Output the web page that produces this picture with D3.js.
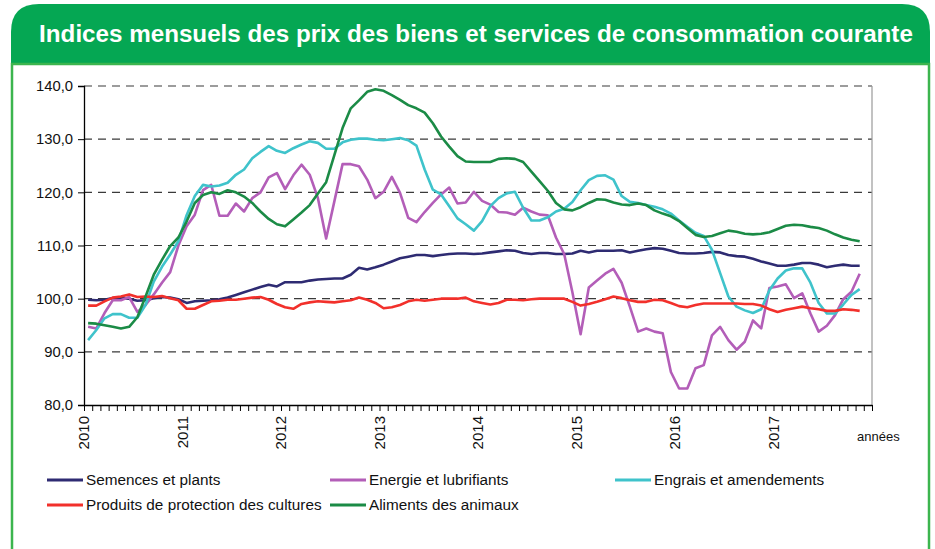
<!DOCTYPE html>
<html>
<head>
<meta charset="utf-8">
<script src="https://cdn.jsdelivr.net/npm/d3@7"></script>
<style>
  body { margin: 0; background: #fff; }
  text { font-family: "Liberation Sans", Arial, sans-serif; }
</style>
</head>
<body>
<div class="canvas"></div>
<script>
// tick labels
const years = ["2010", "2011", "2012", "2013", "2014", "2015", "2016", "2017"];
const yTicks = [80, 90, 100, 110, 120, 130, 140];

// monthly values, janvier 2010 -> novembre 2017
const semences = [
  99.8, 99.7, 99.8, 100.1, 100.1, 100.0, 99.6, 99.7, 100.1, 100.3,
  100.2, 99.9, 99.2, 99.5, 99.6, 99.7, 99.9, 100.2, 100.7, 101.2,
  101.7, 102.2, 102.6, 102.3, 103.1, 103.1, 103.1, 103.4, 103.6, 103.7,
  103.8, 103.8, 104.5, 105.8, 105.5, 105.9, 106.4, 107.0, 107.6, 107.9,
  108.2, 108.2, 108.0, 108.2, 108.4, 108.5, 108.5, 108.4, 108.5, 108.7,
  108.9, 109.1, 109.0, 108.6, 108.4, 108.6, 108.6, 108.4, 108.4, 108.5,
  109.0, 108.7, 109.0, 109.0, 109.0, 109.1, 108.7, 109.0, 109.3, 109.5,
  109.4, 109.0, 108.6, 108.5, 108.5, 108.6, 108.8, 108.7, 108.2, 108.0,
  107.9, 107.5, 107.0, 106.6, 106.2, 106.2, 106.4, 106.7, 106.7, 106.4,
  105.9, 106.2, 106.4, 106.2, 106.2
];
const energie = [
  94.7, 94.4, 97.3, 99.7, 99.7, 100.3, 97.5, 98.8, 100.8, 103.0,
  105.0, 110.0, 113.6, 115.8, 120.4, 121.4, 115.6, 115.6, 117.9, 116.4,
  118.9, 120.0, 122.8, 123.6, 120.6, 123.2, 125.2, 123.3, 118.9, 111.3,
  118.3, 125.3, 125.3, 124.9, 122.4, 118.9, 120.1, 122.9, 119.9, 115.2,
  114.4, 116.3, 118.0, 119.6, 120.9, 117.9, 118.1, 120.1, 118.4, 117.7,
  116.3, 116.2, 115.8, 117.1, 116.4, 115.8, 115.7, 111.5, 108.4, 101.2,
  93.3, 102.1, 103.4, 104.7, 105.6, 103.0, 98.5, 93.8, 94.4, 93.8,
  93.5, 86.2, 83.1, 83.1, 86.9, 87.5, 93.1, 94.7, 92.2, 90.4,
  91.9, 95.9, 94.4, 102.0, 102.3, 102.7, 100.1, 101.0, 97.2, 93.8,
  94.9, 96.9, 99.9, 101.3, 104.7
];
const engrais = [
  92.2, 94.1, 96.3, 97.1, 97.1, 96.4, 96.4, 98.8, 103.2, 106.0,
  108.3, 110.8, 115.7, 119.3, 121.4, 121.1, 121.3, 121.8, 123.3, 124.3,
  126.4, 127.6, 128.7, 127.8, 127.4, 128.3, 129.0, 129.6, 129.3, 128.2,
  128.2, 129.4, 129.9, 130.1, 130.1, 129.9, 129.8, 130.0, 130.2, 129.8,
  128.8, 124.3, 120.5, 119.6, 117.4, 115.1, 114.0, 112.8, 114.6, 117.4,
  118.9, 119.8, 120.1, 117.1, 114.7, 114.7, 115.3, 116.4, 116.9, 118.2,
  120.4, 122.3, 123.1, 123.2, 122.4, 119.3, 118.2, 118.0, 117.6, 117.3,
  116.8, 116.0, 114.7, 113.5, 112.4, 111.8, 109.2, 104.8, 100.4, 98.5,
  97.8, 97.3, 98.0, 101.6, 103.8, 105.3, 105.7, 105.7, 103.0, 99.2,
  97.2, 97.2, 98.9, 100.7, 101.8
];
const produits = [
  98.7, 98.7, 99.5, 100.2, 100.4, 100.8, 100.3, 100.4, 100.3, 100.5,
  100.1, 99.7, 98.1, 98.1, 98.8, 99.5, 99.6, 99.8, 99.8, 100.0,
  100.2, 100.3, 99.8, 99.0, 98.4, 98.1, 99.0, 99.3, 99.5, 99.4,
  99.3, 99.5, 99.7, 100.2, 99.8, 99.2, 98.2, 98.4, 98.8, 99.5,
  99.8, 99.6, 99.8, 100.0, 100.0, 100.0, 100.2, 99.5, 99.2, 98.9,
  99.2, 99.8, 99.8, 99.7, 99.9, 100.0, 100.0, 100.0, 100.0, 99.4,
  98.7, 99.0, 99.4, 99.9, 100.4, 100.1, 99.7, 99.4, 99.4, 99.8,
  99.7, 99.2, 98.6, 98.4, 98.8, 99.1, 99.1, 99.1, 99.1, 99.1,
  99.0, 99.0, 98.7, 98.0, 97.5, 97.9, 98.2, 98.5, 98.2, 98.0,
  97.7, 97.7, 98.0, 97.9, 97.7
];
const aliments = [
  95.4, 95.3, 95.0, 94.7, 94.4, 94.7, 96.5, 100.4, 104.5, 107.3,
  109.9, 111.5, 114.5, 118.0, 119.5, 120.0, 119.7, 120.4, 120.0, 119.2,
  118.0, 116.4, 115.0, 114.0, 113.6, 114.9, 116.2, 117.6, 119.8, 121.9,
  127.0, 132.1, 135.8, 137.3, 138.9, 139.4, 139.1, 138.3, 137.4, 136.4,
  135.8, 135.0, 133.0, 130.5, 128.6, 126.8, 125.8, 125.7, 125.7, 125.7,
  126.3, 126.4, 126.3, 125.7, 123.9, 122.1, 120.3, 118.0, 116.8, 116.6,
  117.2, 118.0, 118.7, 118.6, 118.1, 117.7, 117.6, 117.9, 117.6, 116.6,
  116.0, 115.5, 114.6, 113.3, 112.0, 111.6, 111.8, 112.3, 112.8, 112.6,
  112.2, 112.1, 112.2, 112.5, 113.1, 113.7, 113.9, 113.8, 113.5, 113.3,
  112.8, 112.1, 111.5, 111.1, 110.8
];

const series = [
  {name: "Semences et plants", values: semences, color: "#2e2b72"},
  {name: "Energie et lubrifiants", values: energie, color: "#b35eb8"},
  {name: "Engrais et amendements", values: engrais, color: "#3fc3cb"},
  {name: "Produits de protection des cultures", values: produits, color: "#f2302b"},
  {name: "Aliments des animaux", values: aliments, color: "#1b8b46"}
];

const W = 935, H = 549;
const svg = d3.select(".canvas")
              .append("svg")
              .attr("width", W)
              .attr("height", H);

// frame: green header with rounded top corners + bordered box
const hx0 = 11, hx1 = 930, hy0 = 4, hy1 = 63, r = 28;
svg.append("path")
   .attr("d", `M${hx0},${hy1} V${hy0 + r} Q${hx0},${hy0} ${hx0 + r},${hy0} H${hx1 - r} Q${hx1},${hy0} ${hx1},${hy0 + r} V${hy1} Z`)
   .attr("fill", "#05a753");

svg.append("rect")
   .attr("x", 12).attr("y", 64)
   .attr("width", 917).attr("height", 520)
   .attr("fill", "#fff")
   .attr("stroke", "#3cb54e")
   .attr("stroke-width", 2.5);

svg.append("text")
   .attr("x", 476).attr("y", 42)
   .attr("text-anchor", "middle")
   .attr("fill", "#fff")
   .attr("font-weight", "bold")
   .attr("font-size", 24.2)
   .text("Indices mensuels des prix des biens et services de consommation courante");

// scales
const x = d3.scaleLinear().domain([0, 96]).range([84, 872]);
const y = d3.scaleLinear().domain([80, 140]).range([405, 86]);

const graph = svg.append("g");

// dashed gridlines
graph.selectAll(".grid")
     .data(yTicks.filter(d => d > 80))
     .enter().append("line")
     .attr("x1", x(0)).attr("x2", x(96))
     .attr("y1", d => y(d)).attr("y2", d => y(d))
     .attr("stroke", "#3a3a3a")
     .attr("stroke-width", 1.1)
     .attr("stroke-dasharray", "8,6");

// right border of plot area
graph.append("line")
     .attr("x1", x(96)).attr("x2", x(96))
     .attr("y1", y(140)).attr("y2", y(80))
     .attr("stroke", "#999").attr("stroke-width", 1.2);

// y axis
const yAxis = d3.axisLeft(y)
                .tickValues(yTicks)
                .tickSize(6)
                .tickFormat(d => d3.format(".1f")(d).replace(".", ","));
const gy = graph.append("g")
                .attr("transform", `translate(${x(0)},0)`)
                .call(yAxis);
gy.select(".domain").attr("stroke", "#000").attr("stroke-width", 1.3);
gy.selectAll(".tick line").attr("stroke", "#000");
gy.selectAll(".tick text")
  .attr("x", -11)
  .attr("font-size", 14.8)
  .attr("fill", "#111")
  .style("font-family", "'Liberation Sans', Arial, sans-serif");

// x axis with monthly ticks
const xAxis = d3.axisBottom(x)
                .tickValues(d3.range(0, 97))
                .tickSize(6)
                .tickSizeOuter(0)
                .tickFormat("");
const gx = graph.append("g")
                .attr("transform", `translate(0,${y(80)})`)
                .call(xAxis);
gx.select(".domain").attr("stroke", "#000").attr("stroke-width", 1.3);
gx.selectAll(".tick line").attr("stroke", "#000");

// year labels, rotated
graph.selectAll(".year")
     .data(years)
     .enter().append("text")
     .attr("transform", (d, i) => `translate(${x(i * 12)},${y(80) + 11}) rotate(-90)`)
     .attr("dy", "0.36em")
     .attr("text-anchor", "end")
     .attr("font-size", 15)
     .attr("fill", "#111")
     .text(d => d);

graph.append("text")
     .attr("x", 857).attr("y", 441)
     .attr("font-size", 13)
     .attr("fill", "#111")
     .text("années");

// series lines
const line = d3.line()
               .x((d, i) => x(i + 0.5))
               .y(d => y(d));

graph.selectAll(".serie")
     .data(series)
     .enter().append("path")
     .attr("d", d => line(d.values))
     .attr("fill", "none")
     .attr("stroke", d => d.color)
     .attr("stroke-width", 2.6)
     .attr("stroke-linejoin", "round");

// legend
const legendPos = [[47, 480], [330, 480], [615, 480], [47, 505], [330, 505]];
const legend = svg.selectAll(".legend")
                  .data(series)
                  .enter().append("g")
                  .attr("transform", (d, i) => `translate(${legendPos[i][0]},${legendPos[i][1]})`);
legend.append("line")
      .attr("x1", 0).attr("x2", 36)
      .attr("y1", 0).attr("y2", 0)
      .attr("stroke", d => d.color)
      .attr("stroke-width", 3);
legend.append("text")
      .attr("x", 39).attr("y", 0)
      .attr("dy", "0.35em")
      .attr("font-size", 15.3)
      .attr("fill", "#111")
      .text(d => d.name);
</script>
</body>
</html>
